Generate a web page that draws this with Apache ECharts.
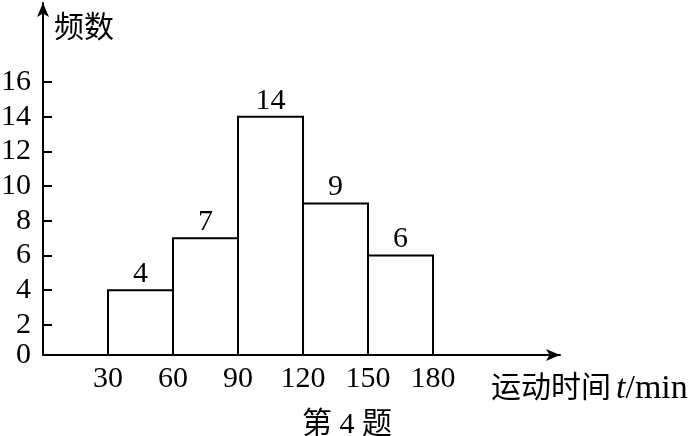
<!DOCTYPE html>
<html>
<head>
<meta charset="utf-8">
<script src="https://cdn.jsdelivr.net/npm/echarts@6/dist/echarts.min.js"></script>
<style>
  html, body { margin: 0; padding: 0; background: #fff; }
  #chart { width: 694px; height: 436px; }
</style>
</head>
<body>
<div id="chart"></div>
<script>
// histogram data: bins of exercise time (min) and their counts
const binStarts = [30, 60, 90, 120, 150]
const binEnds = [60, 90, 120, 150, 180]
const counts = [4, 7, 14, 9, 6]
const xTicks = [30, 60, 90, 120, 150, 180]
const yTicks = [2, 4, 6, 8, 10, 12, 14, 16]

// the drawn x axis sits slightly above the true zero of the y scale
const Y_MIN = 0.26
const Y_MAX = 20.57

const FONT = "'Liberation Serif', 'Noto Sans CJK SC', serif"

const chart = echarts.init(document.getElementById('chart'))

const bins = binStarts.map((s, i) => [s, binEnds[i], counts[i]])

const option = {
  animation: false,
  backgroundColor: '#fff',
  grid: {
    left: 43,
    right: 134,
    top: 3,
    bottom: 81,
    outerBoundsMode: 'none',
  },
  xAxis: {
    type: 'value',
    min: 0,
    max: 238.6,
    splitLine: { show: false },
    axisLine: {
      onZero: false,
      lineStyle: { color: '#000', width: 2 },
      symbol: ['none', 'arrow'],
      symbolSize: [9, 14],
    },
    axisTick: { show: false },
    axisLabel: {
      customValues: xTicks,
      color: '#000',
      fontFamily: FONT,
      fontSize: 30,
      margin: 9,
    },
  },
  yAxis: {
    type: 'value',
    min: Y_MIN,
    max: Y_MAX,
    splitLine: { show: false },
    axisLine: {
      lineStyle: { color: '#000', width: 2 },
      symbol: ['none', 'arrow'],
      symbolSize: [9, 14],
    },
    axisTick: {
      customValues: yTicks,
      inside: true,
      length: 9,
      lineStyle: { color: '#000', width: 2 },
    },
    axisLabel: {
      // origin label "0" is drawn at the x axis line
      customValues: [Y_MIN].concat(yTicks),
      formatter: (v) => (v === Y_MIN ? '0' : String(v)),
      color: '#000',
      fontFamily: FONT,
      fontSize: 30,
      margin: 12,
    },
  },
  series: [
    {
      type: 'custom',
      data: bins,
      renderItem: (params, api) => {
        const topLeft = api.coord([api.value(0), api.value(2)])
        const bottomRight = api.coord([api.value(1), Y_MIN])
        return {
          type: 'group',
          children: [
            {
              type: 'rect',
              shape: {
                x: topLeft[0],
                y: topLeft[1],
                width: bottomRight[0] - topLeft[0],
                height: bottomRight[1] - topLeft[1],
              },
              style: { fill: '#fff', stroke: '#000', lineWidth: 2 },
            },
            {
              type: 'text',
              x: (topLeft[0] + bottomRight[0]) / 2,
              y: topLeft[1] - 16,
              style: {
                text: String(api.value(2)),
                fill: '#000',
                font: '30px ' + FONT,
                align: 'center',
                verticalAlign: 'middle',
              },
            },
          ],
        }
      },
    },
  ],
  graphic: [
    {
      type: 'text',
      left: 54,
      top: 14,
      style: { text: '频数', fill: '#000', font: '30px ' + FONT },
    },
    {
      type: 'text',
      left: 491,
      top: 372,
      style: {
        text: '{a|运动时间}{t|t}{b|/min}',
        rich: {
          a: { fill: '#000', font: '30px ' + FONT, padding: [0, 5, 0, 0] },
          t: { fill: '#000', font: 'italic 34px ' + FONT },
          b: { fill: '#000', font: '34px ' + FONT },
        },
      },
    },
    {
      type: 'text',
      left: 'center',
      top: 410,
      style: { text: '第 4 题', fill: '#000', font: '30px ' + FONT },
    },
  ],
}

chart.setOption(option)
</script>
</body>
</html>
